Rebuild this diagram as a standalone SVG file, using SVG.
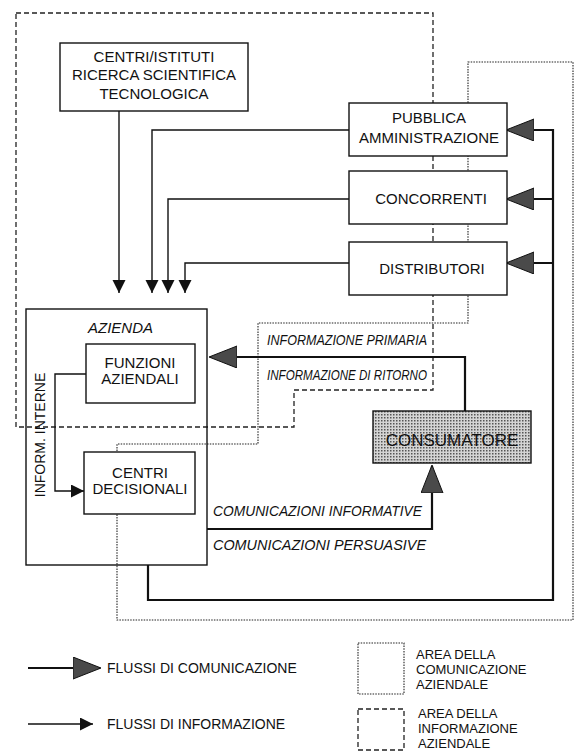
<svg xmlns="http://www.w3.org/2000/svg" width="582" height="753" viewBox="0 0 582 753">
<style>
.box{fill:#fff;stroke:#111;stroke-width:1.4}
.t{font-family:"Liberation Sans",Arial,sans-serif;font-size:15px;fill:#111;text-anchor:middle}
.it{font-family:"Liberation Sans",Arial,sans-serif;font-size:14px;font-style:italic;fill:#111}
.lg{font-family:"Liberation Sans",Arial,sans-serif;font-size:14px;fill:#111}
.lb{font-family:"Liberation Sans",Arial,sans-serif;font-size:13px;fill:#111}
.info{fill:none;stroke:#111;stroke-width:1.4}
.comm{fill:none;stroke:#111;stroke-width:2.2}
.dash{fill:none;stroke:#222;stroke-width:1.3;stroke-dasharray:5,3}
.dot{fill:none;stroke:#222;stroke-width:1.1;stroke-dasharray:1.5,1.2}
</style>
<defs>
<marker id="big" markerUnits="userSpaceOnUse" markerWidth="30" markerHeight="24" refX="27" refY="11" orient="auto">
<path d="M0,0 L28,11 L0,22 Z" fill="#4a4a4a" stroke="#111" stroke-width="1"/>
</marker>
<marker id="small" markerUnits="userSpaceOnUse" markerWidth="14" markerHeight="14" refX="13" refY="6.5" orient="auto">
<path d="M0,0 L13,6.5 L0,13 Z" fill="#111"/>
</marker>
<pattern id="stip" width="3" height="3" patternUnits="userSpaceOnUse">
<rect width="3" height="3" fill="#d4d4d4"/>
<rect width="1.5" height="1.5" fill="#555"/>
</pattern>
</defs>

<g id="areas">
<path class="dash" d="M16,13 H433 V390 H294 V427 H16 Z"/>
<path class="dot" d="M468,62 H573 V620 H117 V444 H258 V323 H468 Z"/>
</g>

<g id="connectors">
<path class="info" d="M119,111 V293" marker-end="url(#small)"/>
<path class="info" d="M349,130 H152 V293" marker-end="url(#small)"/>
<path class="info" d="M349,199 H168 V293" marker-end="url(#small)"/>
<path class="info" d="M349,263 H185 V293" marker-end="url(#small)"/>
<path class="info" d="M86,374 H55 V491 H84" marker-end="url(#small)"/>
<path class="comm" d="M465,411 V357 H210" marker-end="url(#big)"/>
<path class="comm" d="M207,529 H432 V466" marker-end="url(#big)"/>
<path class="comm" d="M148,565 V600 H553 V130 H507" marker-end="url(#big)"/>
<path class="comm" d="M553,199 H507" marker-end="url(#big)"/>
<path class="comm" d="M553,263 H507" marker-end="url(#big)"/>
</g>

<g id="centri-istituti">
<rect class="box" x="60" y="43" width="188" height="68"/>
<text class="t" x="154" y="62">CENTRI/ISTITUTI</text>
<text class="t" x="154" y="80">RICERCA SCIENTIFICA</text>
<text class="t" x="154" y="99">TECNOLOGICA</text>
</g>

<g id="pubblica-amministrazione">
<rect class="box" x="349" y="103" width="158" height="53"/>
<text class="t" x="429" y="123">PUBBLICA</text>
<text class="t" x="429" y="143">AMMINISTRAZIONE</text>
</g>

<g id="concorrenti">
<rect class="box" x="349" y="171" width="158" height="53"/>
<text class="t" x="431" y="204">CONCORRENTI</text>
</g>

<g id="distributori">
<rect class="box" x="349" y="242" width="158" height="53"/>
<text class="t" x="432" y="274">DISTRIBUTORI</text>
</g>

<g id="azienda">
<rect x="26" y="309" width="181" height="256" fill="none" stroke="#111" stroke-width="1.4"/>
<text class="it" x="88" y="333" style="font-size:15px">AZIENDA</text>
<text class="lg" x="45" y="435" text-anchor="middle" transform="rotate(-90 45 435)">INFORM. INTERNE</text>
</g>

<g id="funzioni-aziendali">
<rect class="box" x="86" y="344" width="109" height="59"/>
<text class="t" x="140" y="368">FUNZIONI</text>
<text class="t" x="140" y="384">AZIENDALI</text>
</g>

<g id="centri-decisionali">
<rect class="box" x="84" y="452" width="111" height="62"/>
<text class="t" x="140" y="478">CENTRI</text>
<text class="t" x="140" y="494">DECISIONALI</text>
</g>

<g id="consumatore">
<rect x="373" y="411" width="158" height="52" fill="url(#stip)" stroke="#111" stroke-width="1.4"/>
<text class="t" x="452" y="446" style="font-size:17px">CONSUMATORE</text>
</g>

<g id="labels">
<text class="it" x="267" y="345" textLength="160" lengthAdjust="spacingAndGlyphs">INFORMAZIONE PRIMARIA</text>
<text class="it" x="267" y="380" textLength="160" lengthAdjust="spacingAndGlyphs">INFORMAZIONE DI RITORNO</text>
<text class="it" x="213" y="516" textLength="209" lengthAdjust="spacingAndGlyphs">COMUNICAZIONI INFORMATIVE</text>
<text class="it" x="213" y="550" textLength="213" lengthAdjust="spacingAndGlyphs">COMUNICAZIONI PERSUASIVE</text>
</g>

<g id="legend">
<path class="comm" d="M28,668 H100" marker-end="url(#big)"/>
<text class="lg" x="107" y="673">FLUSSI DI COMUNICAZIONE</text>
<path class="info" d="M28,724 H93" marker-end="url(#small)"/>
<text class="lg" x="107" y="729">FLUSSI DI INFORMAZIONE</text>
<rect class="dot" x="358" y="643" width="46" height="51"/>
<text class="lb" x="416" y="659">AREA DELLA</text>
<text class="lb" x="416" y="674">COMUNICAZIONE</text>
<text class="lb" x="416" y="689">AZIENDALE</text>
<rect class="dash" x="358" y="709" width="46" height="41"/>
<text class="lb" x="418" y="718">AREA DELLA</text>
<text class="lb" x="418" y="733">INFORMAZIONE</text>
<text class="lb" x="418" y="748">AZIENDALE</text>
</g>
</svg>
